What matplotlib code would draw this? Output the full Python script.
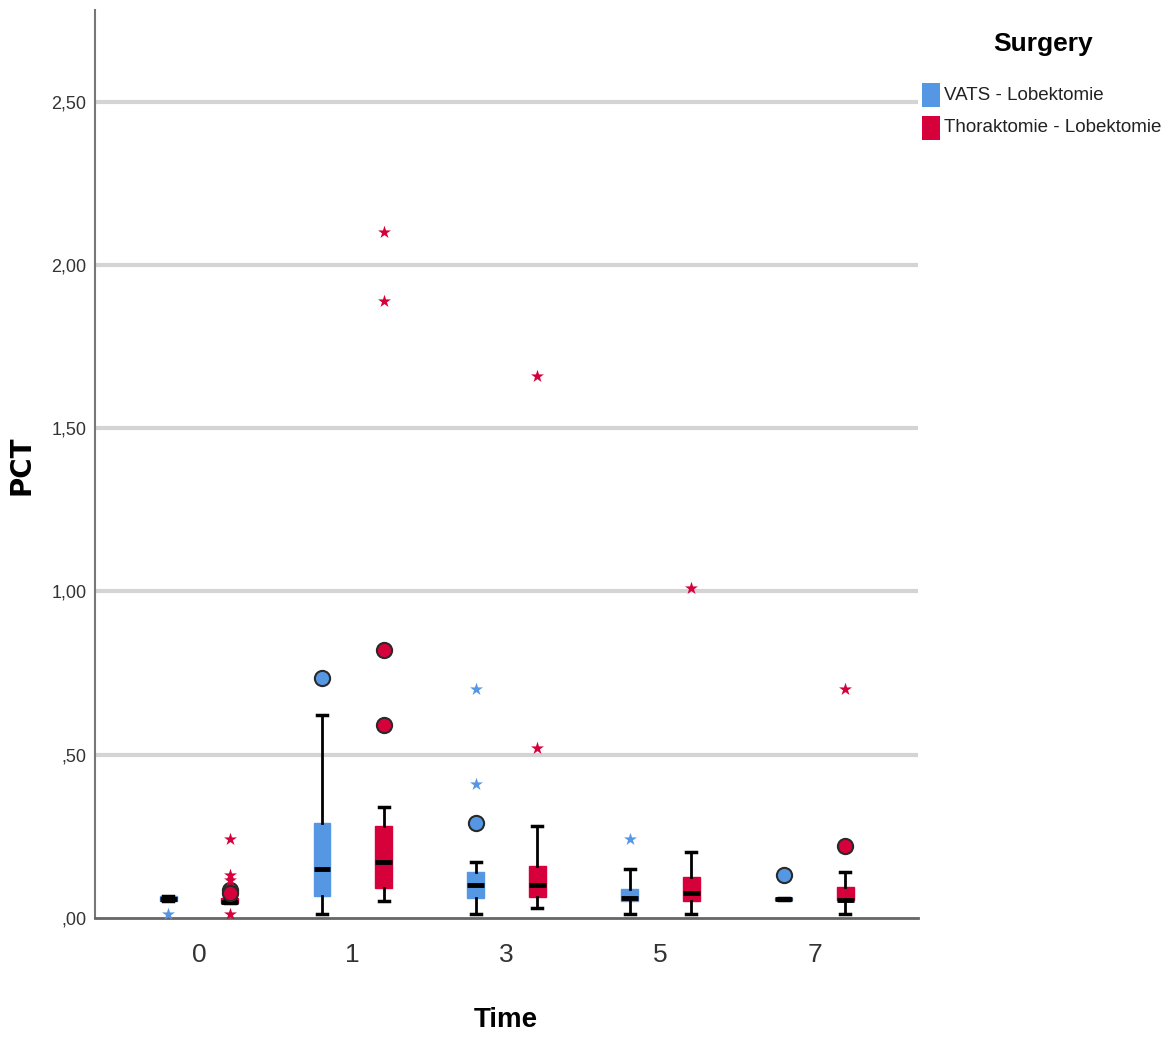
import matplotlib
matplotlib.use('Agg')
import matplotlib.pyplot as plt
from matplotlib.patches import Rectangle

plt.rcParams['font.family'] = ['Liberation Sans', 'DejaVu Sans']

# Daten
times = ['0', '1', '3', '5', '7']
groups = ['VATS - Lobektomie', 'Thoraktomie - Lobektomie']
colors = ['#5597E3', '#D6003A']

# je Gruppe: Median, Q1, Q3, unteres/oberes Whisker-Ende
vats_med = [0.058, 0.15, 0.10, 0.062, 0.058]
vats_q1 = [0.050, 0.067, 0.060, 0.050, 0.055]
vats_q3 = [0.068, 0.29, 0.14, 0.088, 0.062]
vats_lo = [0.050, 0.01, 0.01, 0.01, 0.055]
vats_hi = [0.068, 0.62, 0.17, 0.15, 0.062]
vats_circles = [[], [0.735], [0.29], [], [0.13]]
vats_stars = [[0.01], [], [0.70, 0.41], [0.24], []]

thor_med = [0.048, 0.17, 0.10, 0.075, 0.055]
thor_q1 = [0.045, 0.092, 0.065, 0.05, 0.053]
thor_q3 = [0.060, 0.28, 0.16, 0.126, 0.095]
thor_lo = [0.045, 0.05, 0.03, 0.01, 0.01]
thor_hi = [0.060, 0.34, 0.28, 0.20, 0.14]
thor_circles = [[0.085, 0.076], [0.82, 0.59], [], [], [0.22]]
thor_stars = [[0.24, 0.13, 0.116, 0.01], [2.10, 1.89], [1.66, 0.52], [1.01], [0.70]]

yticks = [0.0, 0.5, 1.0, 1.5, 2.0, 2.5]
ytick_labels = [',00', ',50', '1,00', '1,50', '2,00', '2,50']

fig = plt.figure(figsize=(11.72, 10.37), dpi=100)
ax = fig.add_axes([0.081, 0.115, 0.702, 0.875])

series = [
    (vats_med, vats_q1, vats_q3, vats_lo, vats_hi, vats_circles, vats_stars, -0.2),
    (thor_med, thor_q1, thor_q3, thor_lo, thor_hi, thor_circles, thor_stars, 0.2),
]

for (med, q1, q3, lo, hi, circ, stars, off), col in zip(series, colors):
    stats = []
    for i in range(len(times)):
        stats.append(dict(med=med[i], q1=q1[i], q3=q3[i], whislo=lo[i], whishi=hi[i], fliers=[]))
    pos = [i + off for i in range(len(times))]
    ax.bxp(stats, positions=pos, widths=0.11, patch_artist=True, showfliers=False,
           boxprops=dict(facecolor=col, edgecolor=col, linewidth=1),
           medianprops=dict(color='black', linewidth=3.5, solid_capstyle='butt'),
           whiskerprops=dict(color='black', linewidth=2),
           capprops=dict(color='black', linewidth=2.5),
           capwidths=0.065, zorder=3)
    for i in range(len(times)):
        if circ[i]:
            ax.scatter([i + off] * len(circ[i]), circ[i], s=120, color=col,
                       edgecolor='#2a2a2a', linewidth=1.5, zorder=4)
        if stars[i]:
            ax.scatter([i + off] * len(stars[i]), stars[i], s=95, marker='*',
                       color=col, linewidth=0, zorder=4)

ax.set_xlim(-0.675, 4.67)
ax.set_ylim(0, 2.78)
ax.set_xticks(range(len(times)))
ax.set_xticklabels(times, fontsize=19, color='#333333')
ax.set_yticks(yticks)
ax.set_yticklabels(ytick_labels, fontsize=13, color='#333333')
ax.tick_params(axis='y', length=0, pad=6)
ax.tick_params(axis='x', length=0, pad=18)

for y in yticks[1:]:
    ax.axhline(y, color='#d4d4d4', linewidth=3, zorder=1)

for s in ['top', 'right']:
    ax.spines[s].set_visible(False)
ax.spines['left'].set_color('#777777')
ax.spines['left'].set_linewidth(1.5)
ax.spines['bottom'].set_color('#666666')
ax.spines['bottom'].set_linewidth(2)

ax.set_xlabel('Time', fontsize=20, fontweight='bold', labelpad=29)
fig.text(22 / 1172, 1 - 465 / 1037, 'PCT', rotation=90, fontsize=20,
         fontweight='bold', ha='center', va='center', family=['DejaVu Sans'])

# Legende
fig.text(1043 / 1172, 1 - 44 / 1037, 'Surgery', fontsize=19, fontweight='bold',
         ha='center', va='center')
for k, (lab, col) in enumerate(zip(groups, colors)):
    yc = 95 + 33 * k
    fig.patches.append(Rectangle((922 / 1172, 1 - (yc + 12) / 1037), 18 / 1172, 24 / 1037,
                                 transform=fig.transFigure, facecolor=col,
                                 edgecolor='none'))
    fig.text(944 / 1172, 1 - yc / 1037, lab, fontsize=13.5, ha='left', va='center',
             color='#222222')

fig.savefig('out.png', dpi=100)
